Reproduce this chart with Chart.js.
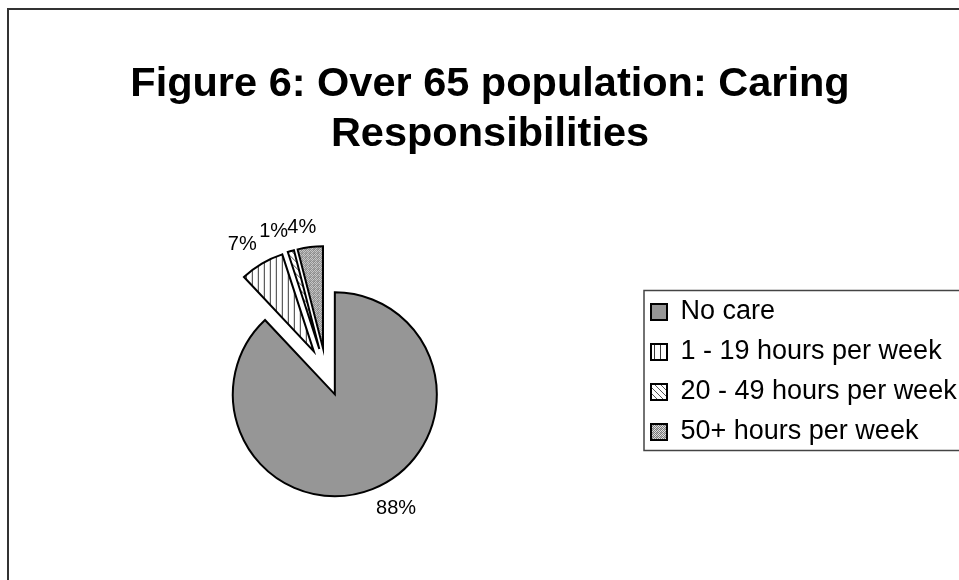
<!DOCTYPE html>
<html>
<head>
<meta charset="utf-8">
<script src="https://cdn.jsdelivr.net/npm/chart.js@4"></script>
<style>
html, body { margin: 0; padding: 0; background: #fff; overflow: hidden; width: 959px; height: 580px; }
#frame { position: absolute; left: 7px; top: 8px; width: 1100px; height: 1100px; border-left: 2px solid #333; border-top: 2px solid #333; box-sizing: border-box; }
#c { position: absolute; left: 0; top: 0; }
</style>
</head>
<body>
<div id="frame"></div>
<canvas id="c" width="980" height="600" style="width:980px;height:600px"></canvas>
<script>
// ---- data ----
const titleLines = ['Figure 6: Over 65 population: Caring', 'Responsibilities'];
const categories = ['No care', '1 - 19 hours per week', '20 - 49 hours per week', '50+ hours per week'];
const shares = [88, 7, 1, 4];

// ---- styles ----
const FONT = '"Liberation Sans", Arial, sans-serif';
const canvas = document.getElementById('c');
const ctx = canvas.getContext('2d');

function makePattern(w, h, draw) {
  const t = document.createElement('canvas');
  t.width = w; t.height = h;
  const g = t.getContext('2d');
  draw(g, w, h);
  return ctx.createPattern(t, 'repeat');
}
const gray = '#969696';
const vStripes = makePattern(6, 6, (g, w, h) => {
  g.fillStyle = '#fff'; g.fillRect(0, 0, w, h);
  g.fillStyle = '#3a3a3a'; g.fillRect(0, 0, 1, h);
});
const diagStripes = makePattern(6, 6, (g, w, h) => {
  g.fillStyle = '#fff'; g.fillRect(0, 0, w, h);
  g.fillStyle = '#555';
  for (let i = 0; i < w; i++) g.fillRect(i, i, 1, 1);
});
const dotted = makePattern(4, 4, (g) => {
  g.fillStyle = '#e0e0e0'; g.fillRect(0, 0, 4, 4);
  g.fillStyle = '#7a7a7a';
  g.fillRect(0, 0, 1, 1); g.fillRect(2, 0, 1, 1); g.fillRect(1, 1, 1, 1); g.fillRect(3, 1, 1, 1);
  g.fillRect(0, 2, 1, 1); g.fillRect(2, 2, 1, 1); g.fillRect(1, 3, 1, 1); g.fillRect(3, 3, 1, 1);
  g.fillStyle = '#b4b4b4'; g.fillRect(1, 0, 1, 1); g.fillRect(0, 1, 1, 1);
});
const fills = [gray, vStripes, diagStripes, dotted];

const pieRadius = 102;
const explodePx = 24;   // every slice pulled out by the same distance
const labelGap = 10;
const total = shares.reduce((a, b) => a + b, 0);

// translate each arc along its bisector when it is drawn (Excel-style exploded pie)
const explode = {
  id: 'explode',
  beforeDatasetsDraw(chart) {
    chart.getDatasetMeta(0).data.forEach(arc => {
      if (arc._exploded) return;
      arc._exploded = true;
      const orig = arc.draw;
      arc.draw = function (c) {
        const mid = (this.startAngle + this.endAngle) / 2;
        c.save();
        c.translate(Math.cos(mid) * explodePx, Math.sin(mid) * explodePx);
        orig.call(this, c);
        c.restore();
      };
    });
  }
};

const clamp = v => Math.max(-1, Math.min(1, v));
const pctLabels = {
  id: 'pctLabels',
  afterDatasetsDraw(chart) {
    const meta = chart.getDatasetMeta(0);
    const c = chart.ctx;
    c.save();
    c.font = '20px ' + FONT;
    c.fillStyle = '#000';
    c.textAlign = 'center';
    c.textBaseline = 'middle';
    meta.data.forEach((arc, i) => {
      const p = arc.getProps(['x', 'y', 'startAngle', 'endAngle', 'outerRadius']);
      const mid = (p.startAngle + p.endAngle) / 2;
      const dx = Math.cos(mid), dy = Math.sin(mid);
      const txt = Math.round(shares[i] / total * 100) + '%';
      const w = c.measureText(txt).width, h = 20;
      const d = explodePx + p.outerRadius + labelGap;
      const cx = p.x + dx * d + clamp(dx * 4) * w / 2;
      const cy = p.y + dy * d + clamp(dy * 4) * h / 2;
      c.fillText(txt, cx, cy);
    });
    c.restore();
  }
};

const legendFrame = {
  id: 'legendFrame',
  afterDraw(chart) {
    const hb = chart.legend && chart.legend.legendHitBoxes;
    if (!hb || !hb.length) return;
    const c = chart.ctx;
    const first = hb[0], last = hb[hb.length - 1];
    const x = first.left - 7, y = first.top - 8, y2 = last.top + last.height + 5;
    c.save();
    c.strokeStyle = '#444';
    c.lineWidth = 1.5;
    c.strokeRect(x, y, chart.width + 20 - x, y2 - y);
    c.restore();
  }
};

new Chart(ctx, {
  type: 'pie',
  data: {
    labels: categories,
    datasets: [{
      data: shares,
      backgroundColor: fills,
      borderColor: '#000',
      borderWidth: 2,
      borderJoinStyle: 'miter'
    }]
  },
  options: {
    responsive: false,
    animation: false,
    events: [],
    radius: pieRadius,
    layout: { padding: { left: 14, right: 14, top: 0, bottom: 15.6 } },
    plugins: {
      title: {
        display: true,
        text: titleLines,
        color: '#000',
        font: { family: FONT, size: 41.5, weight: 'bold', lineHeight: 1.2 },
        padding: { top: 60, bottom: 0 }
      },
      legend: {
        display: true,
        position: 'right',
        align: 'center',
        fullSize: false,
        maxWidth: 328,
        labels: {
          boxWidth: 16,
          boxHeight: 16,
          padding: 13,
          color: '#000',
          font: { family: FONT, size: 27 }
        }
      },
      tooltip: { enabled: false }
    }
  },
  plugins: [explode, pctLabels, legendFrame]
});
</script>
</body>
</html>
